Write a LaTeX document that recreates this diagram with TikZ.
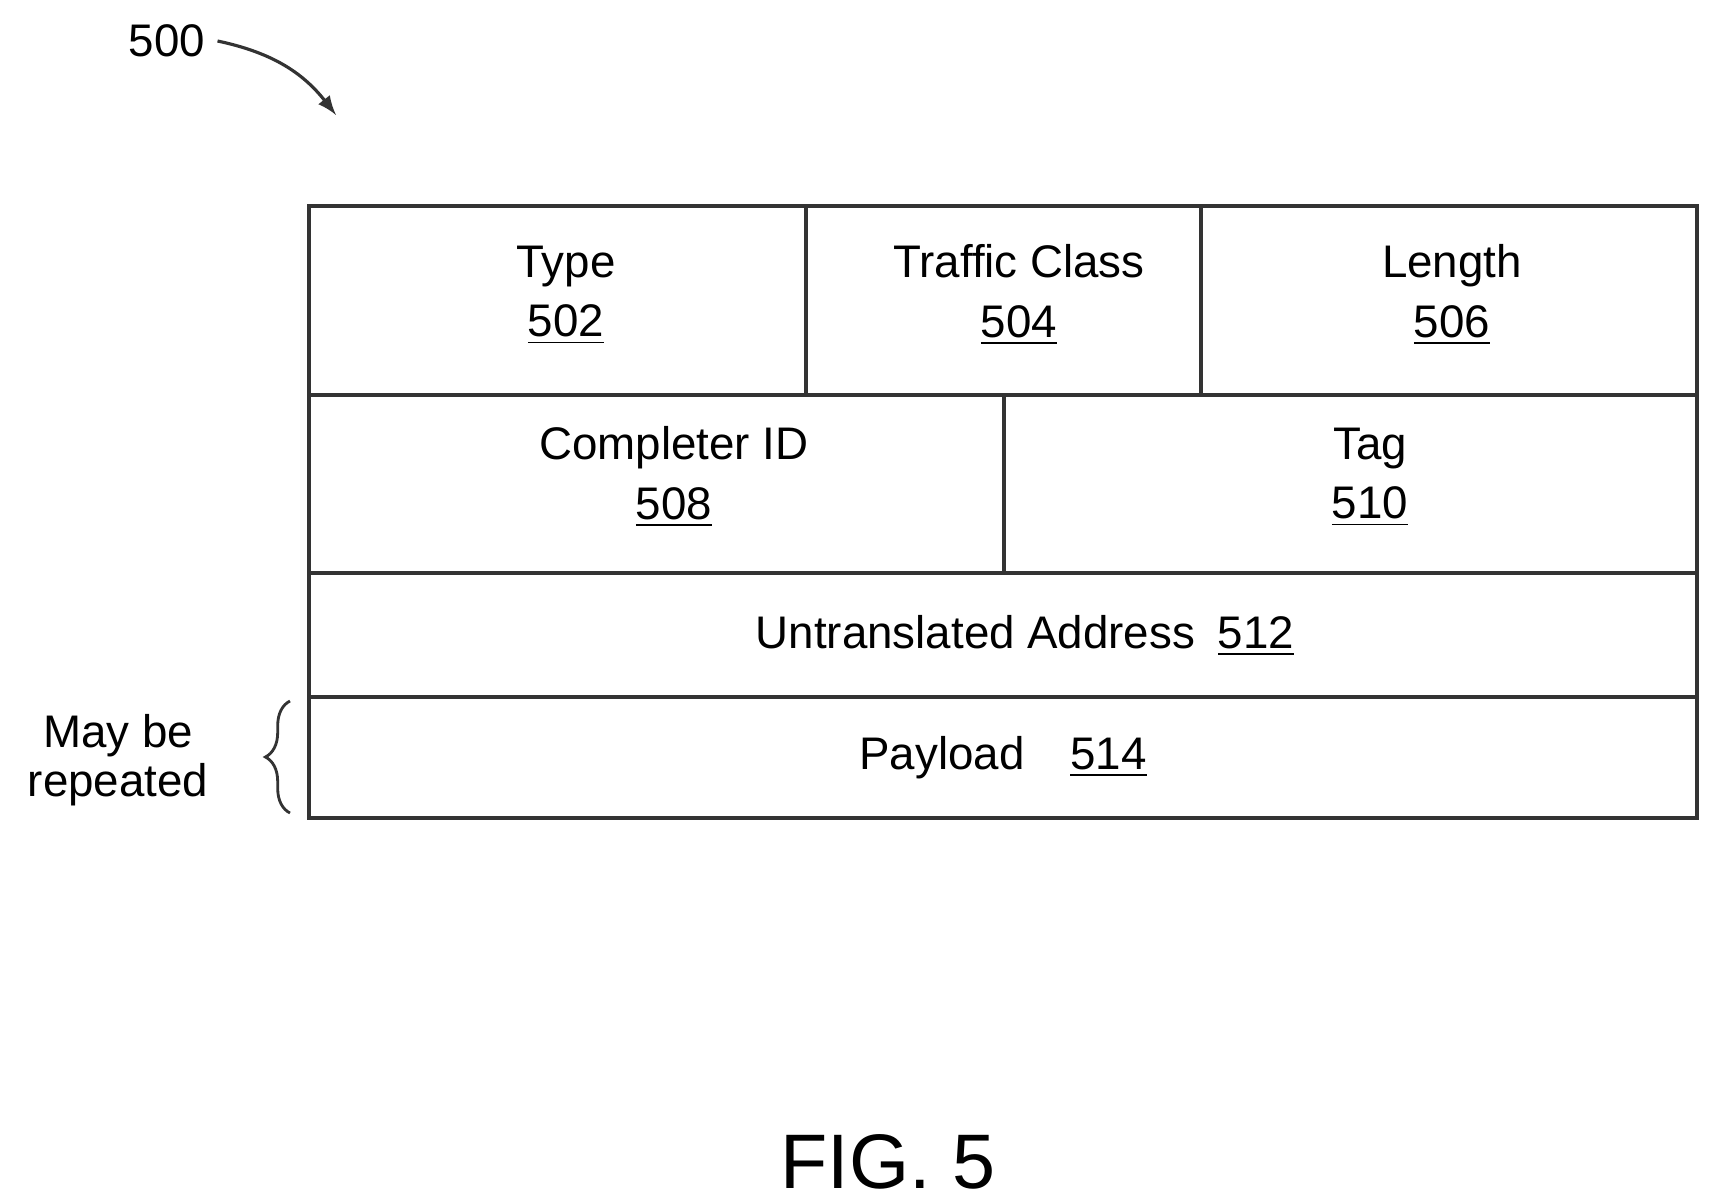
\documentclass[tikz,border=0pt]{standalone}
\usepackage{fontspec}
\setmainfont{Liberation Sans}
\usetikzlibrary{decorations.pathreplacing}
\begin{document}
\begin{tikzpicture}[
      field/.style={draw=black!80, line width=0.9pt},
      lbl/.style={font=\fontsize{13}{15}\selectfont, align=center},
      num/.style={font=\fontsize{13}{15}\selectfont}
    ]
    \useasboundingbox (0,0) rectangle (17.12,-12.04);
    % frame and field separators
    \draw[field] (3.09,-2.06) rectangle (16.97,-8.18);
    \draw[field] (3.09,-3.95) -- (16.97,-3.95);
    \draw[field] (3.09,-5.73) -- (16.97,-5.73);
    \draw[field] (3.09,-6.97) -- (16.97,-6.97);
    \draw[field] (8.06,-2.06) -- (8.06,-3.95);
    \draw[field] (12.01,-2.06) -- (12.01,-3.95);
    \draw[field] (10.04,-3.95) -- (10.04,-5.73);
    % field labels
    \node (type) [lbl] at (5.66,-2.95) {Type\\[2pt]\underline{502}};
    \node (tc) [lbl] at (10.19,-2.95) {Traffic Class\\[2pt]\underline{504}};
    \node (len) [lbl] at (14.52,-2.95) {Length\\[2pt]\underline{506}};
    \node (cid) [lbl] at (6.74,-4.77) {Completer ID\\[2pt]\underline{508}};
    \node (tag) [lbl] at (13.70,-4.77) {Tag\\[2pt]\underline{510}};
    \node (ua) [num] at (10.25,-6.36) {Untranslated Address\enspace\underline{512}};
    \node (pl) [num] at (10.03,-7.58) {Payload\quad\underline{514}};
    % side note
    \node (rep) [lbl, font=\fontsize{13}{14}\selectfont] at (1.18,-7.60) {May be\\repeated};
    \draw[black!80, line width=0.8pt, decorate, decoration={brace, amplitude=7pt}]
      (2.90,-8.13) -- (2.90,-7.01);
    % reference numeral
    \node (ref) [num] at (1.67,-0.41) {500};
    \coordinate (tip) at (3.36,-1.15);
    \draw[black!80, line width=0.9pt, -latex] (ref.east) to[bend left=20] (tip);
    \node (fig) [font=\fontsize{22}{24}\selectfont] at (8.88,-11.62) {FIG. 5};
  \end{tikzpicture}
\end{document}
